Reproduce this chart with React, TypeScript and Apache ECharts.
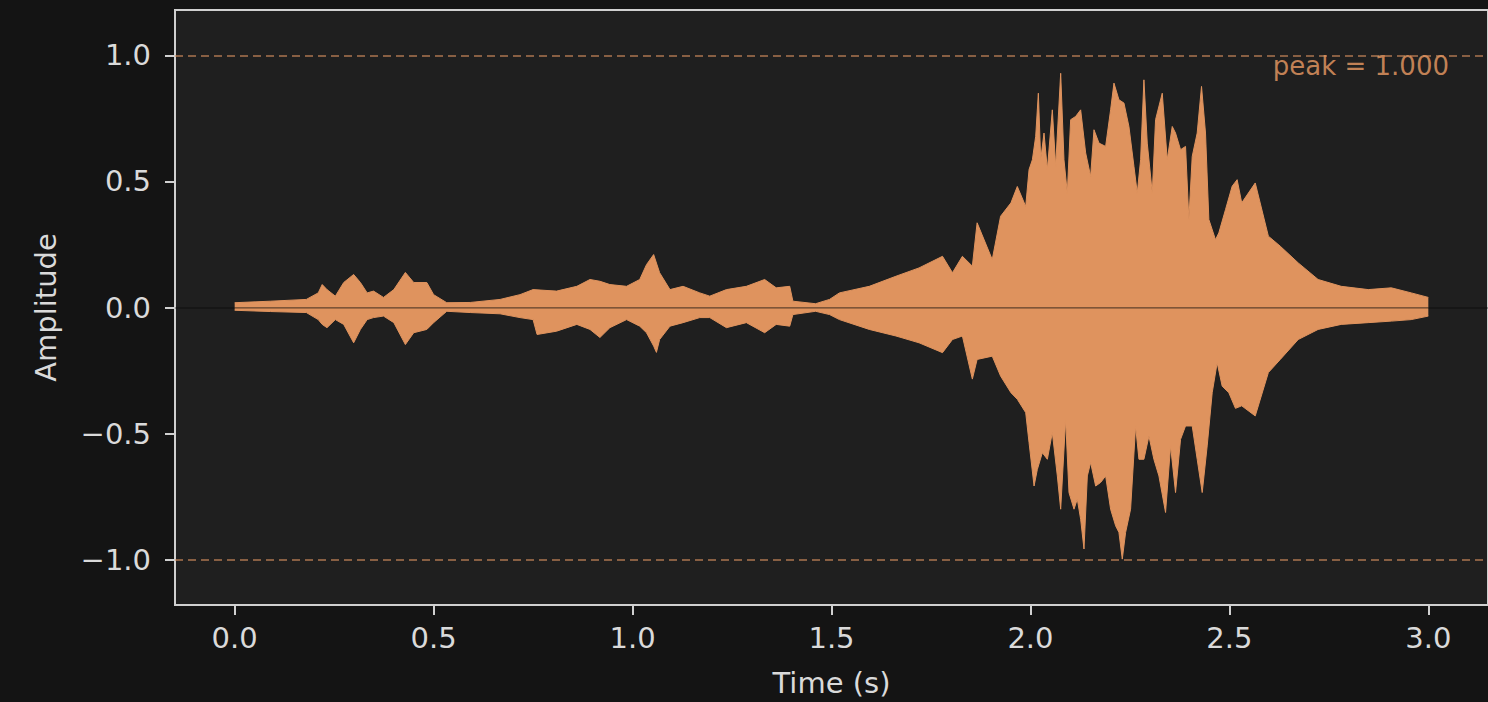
import React, { useEffect, useRef } from "react";
import * as echarts from "echarts";

// Upper envelope of the waveform (time in s, amplitude)
const UPPER_T = [
  0.0, 0.09, 0.18, 0.21, 0.22, 0.232, 0.253, 0.274, 0.299, 0.316, 0.333, 0.349, 0.374, 0.4, 0.429, 0.45, 0.483, 0.5,
  0.533, 0.592, 0.667, 0.717, 0.75, 0.809, 0.86, 0.893, 0.918, 0.943, 0.985, 1.018, 1.035, 1.053, 1.068, 1.094, 1.127,
  1.169, 1.194, 1.236, 1.286, 1.332, 1.361, 1.395, 1.403, 1.46, 1.495, 1.52, 1.595, 1.662, 1.72, 1.779, 1.804, 1.829,
  1.854, 1.866, 1.904, 1.925, 1.951, 1.967, 1.9881, 1.9965, 2.0049, 2.0132, 2.0199, 2.0258, 2.0341, 2.0425, 2.055,
  2.0634, 2.076, 2.0843, 2.0927, 2.1011, 2.1137, 2.1262, 2.1388, 2.1513, 2.1597, 2.1723, 2.189, 2.2015, 2.2099, 2.2224,
  2.235, 2.2475, 2.2601, 2.2685, 2.2769, 2.2852, 2.2936, 2.3062, 2.3145, 2.3313, 2.3438, 2.3564, 2.3647, 2.3773, 2.3898,
  2.3982, 2.4066, 2.4191, 2.43, 2.44, 2.4484, 2.4651, 2.4735, 2.4902, 2.507, 2.5195, 2.531, 2.565, 2.598, 2.628, 2.673,
  2.723, 2.781, 2.849, 2.907, 2.957, 3.0,
];
const UPPER_V = [
  0.019, 0.025, 0.032, 0.058, 0.091, 0.071, 0.045, 0.099, 0.131, 0.099, 0.058, 0.065, 0.04, 0.071, 0.139, 0.099, 0.099,
  0.051, 0.019, 0.02, 0.032, 0.051, 0.071, 0.065, 0.084, 0.111, 0.104, 0.091, 0.084, 0.111, 0.17, 0.21, 0.138, 0.071,
  0.084, 0.058, 0.045, 0.071, 0.084, 0.111, 0.078, 0.084, 0.025, 0.015, 0.032, 0.058, 0.084, 0.124, 0.157, 0.203,
  0.138, 0.203, 0.164, 0.336, 0.19, 0.362, 0.415, 0.48, 0.401, 0.547, 0.586, 0.679, 0.85, 0.586, 0.692, 0.547, 0.784,
  0.56, 0.929, 0.586, 0.454, 0.745, 0.758, 0.784, 0.613, 0.52, 0.705, 0.652, 0.639, 0.784, 0.89, 0.824, 0.811, 0.718,
  0.56, 0.454, 0.586, 0.903, 0.652, 0.454, 0.745, 0.85, 0.586, 0.718, 0.692, 0.626, 0.639, 0.349, 0.599, 0.692, 0.877,
  0.692, 0.349, 0.269, 0.296, 0.388, 0.481, 0.507, 0.415, 0.494, 0.283, 0.243, 0.177, 0.111, 0.084, 0.071, 0.078, 0.058,
  0.04,
];

// Lower envelope of the waveform
const LOWER_T = [
  0.0, 0.09, 0.18, 0.21, 0.22, 0.232, 0.253, 0.274, 0.299, 0.316, 0.333, 0.349, 0.374, 0.4, 0.429, 0.45, 0.483, 0.5,
  0.533, 0.592, 0.667, 0.717, 0.75, 0.76, 0.809, 0.86, 0.893, 0.918, 0.943, 0.985, 1.018, 1.035, 1.053, 1.06, 1.068,
  1.094, 1.127, 1.169, 1.194, 1.236, 1.286, 1.332, 1.361, 1.395, 1.403, 1.46, 1.495, 1.52, 1.595, 1.662, 1.72, 1.779,
  1.804, 1.829, 1.854, 1.866, 1.904, 1.925, 1.951, 1.967, 1.9881, 1.9965, 2.0091, 2.0174, 2.0299, 2.0425, 2.055,
  2.0676, 2.076, 2.0885, 2.0969, 2.1095, 2.1178, 2.1262, 2.1346, 2.143, 2.1513, 2.1639, 2.1764, 2.189, 2.2015, 2.2141,
  2.2224, 2.2308, 2.2392, 2.2517, 2.2643, 2.2727, 2.2852, 2.2978, 2.3103, 2.3229, 2.3396, 2.3522, 2.3647, 2.3773,
  2.3898, 2.4066, 2.4191, 2.4317, 2.4442, 2.4568, 2.4693, 2.4819, 2.4986, 2.5153, 2.531, 2.565, 2.598, 2.628, 2.673,
  2.723, 2.781, 2.849, 2.907, 2.957, 3.0,
];
const LOWER_V = [
  -0.011, -0.016, -0.02, -0.048, -0.067, -0.08, -0.048, -0.067, -0.14, -0.087, -0.048, -0.04, -0.034, -0.06, -0.147,
  -0.1, -0.087, -0.06, -0.015, -0.02, -0.025, -0.04, -0.048, -0.107, -0.094, -0.067, -0.087, -0.119, -0.08, -0.048,
  -0.074, -0.1, -0.153, -0.178, -0.127, -0.074, -0.06, -0.04, -0.04, -0.08, -0.06, -0.1, -0.067, -0.074, -0.028,
  -0.015, -0.028, -0.048, -0.087, -0.113, -0.14, -0.179, -0.127, -0.113, -0.284, -0.206, -0.193, -0.272, -0.338,
  -0.364, -0.417, -0.536, -0.708, -0.642, -0.576, -0.602, -0.496, -0.668, -0.8, -0.444, -0.734, -0.8, -0.76, -0.84,
  -0.958, -0.668, -0.615, -0.708, -0.694, -0.668, -0.8, -0.866, -0.892, -0.998, -0.892, -0.8, -0.47, -0.602, -0.602,
  -0.51, -0.602, -0.668, -0.813, -0.549, -0.734, -0.523, -0.47, -0.47, -0.602, -0.734, -0.549, -0.338, -0.219, -0.312,
  -0.338, -0.4, -0.39, -0.43, -0.258, -0.206, -0.127, -0.087, -0.067, -0.06, -0.054, -0.048, -0.034,
];

const X_TICKS = [0, 0.5, 1.0, 1.5, 2.0, 2.5, 3.0];
const Y_TICKS = [-1.0, -0.5, 0.0, 0.5, 1.0];
const PEAK = 1.0;
const PEAK_LABEL = `peak = ${PEAK.toFixed(3)}`;
const X_NAME = "Time (s)";
const Y_NAME = "Amplitude";

const WAVE = "#df935e";
const AXIS = "#d0d0d0";
const TXT = "#dadada";
const FONT = "DejaVu Sans";

const fmt = (v: number) => (v < 0 ? "\u2212" : "") + Math.abs(v).toFixed(1);

export default function App() {
  const ref = useRef<HTMLDivElement>(null);
  useEffect(() => {
    if (!ref.current) return;
    const chart = echarts.init(ref.current, undefined, { renderer: "svg" });
    const up = UPPER_T.map((t, i) => [t, UPPER_V[i]]);
    const lo = LOWER_T.map((t, i) => [t, LOWER_V[i]]);
    const dash = { color: "rgba(223,148,96,0.55)", width: 2, type: [8, 5] as any };
    chart.setOption({
      animation: false,
      backgroundColor: "#141414",
      textStyle: { fontFamily: FONT },
      grid: {
        left: 175,
        top: 10,
        width: 1315,
        height: 595,
        show: true,
        backgroundColor: "#1f1f1f",
        borderColor: AXIS,
        borderWidth: 2,
      },
      xAxis: {
        type: "value",
        min: -0.15,
        max: 3.15,
        splitLine: { show: false },
        axisLine: { show: true, onZero: false, lineStyle: { color: AXIS, width: 2 } },
        axisTick: { show: true, customValues: X_TICKS, length: 10, lineStyle: { color: AXIS, width: 2 } },
        axisLabel: { customValues: X_TICKS, formatter: fmt, color: TXT, fontSize: 29, margin: 18, fontFamily: FONT },
        name: X_NAME,
        nameLocation: "middle",
        nameGap: 63,
        nameTextStyle: { color: TXT, fontSize: 29, fontFamily: FONT },
      },
      yAxis: {
        type: "value",
        min: -1.18,
        max: 1.18,
        splitLine: { show: false },
        axisLine: { show: true, onZero: false, lineStyle: { color: AXIS, width: 2 } },
        axisTick: { show: true, customValues: Y_TICKS, length: 10, lineStyle: { color: AXIS, width: 2 } },
        axisLabel: { customValues: Y_TICKS, formatter: fmt, color: TXT, fontSize: 29, margin: 24, fontFamily: FONT },
        name: Y_NAME,
        nameLocation: "middle",
        nameGap: 115,
        nameTextStyle: { color: TXT, fontSize: 29, fontFamily: FONT },
      },
      series: [
        {
          type: "line",
          data: up,
          showSymbol: false,
          symbol: "none",
          lineStyle: { color: WAVE, width: 1 },
          areaStyle: { color: WAVE, opacity: 1 },
          z: 2,
        },
        {
          type: "line",
          data: lo,
          showSymbol: false,
          symbol: "none",
          lineStyle: { color: WAVE, width: 1 },
          areaStyle: { color: WAVE, opacity: 1 },
          z: 3,
          markLine: {
            silent: true,
            symbol: ["none", "none"],
            label: { show: false },
            data: [
              { yAxis: PEAK, lineStyle: dash },
              { yAxis: -PEAK, lineStyle: dash },
              { yAxis: 0, lineStyle: { color: "rgba(0,0,0,0.28)", width: 2, type: "solid" } },
            ],
          },
        },
      ],
      graphic: [
        {
          type: "text",
          right: 39,
          top: 53,
          style: {
            text: PEAK_LABEL,
            fill: "rgba(223,148,96,0.85)",
            fontSize: 26,
            fontFamily: FONT,
          },
          z: 10,
        },
      ],
    });
    return () => chart.dispose();
  }, []);
  return <div ref={ref} style={{ position: "fixed", left: 0, top: 0, width: 1488, height: 702 }} />;
}
